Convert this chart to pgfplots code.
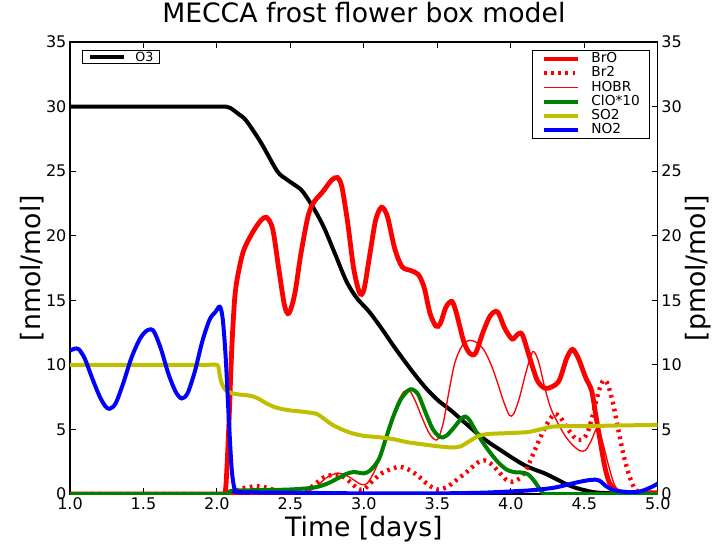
\documentclass[border=0pt]{standalone}
\usepackage{pgfplots}
\pgfplotsset{compat=1.18}
\usepackage{fontspec}
\setmainfont{DejaVu Sans}
\definecolor{mplred}{rgb}{1,0,0}
\definecolor{mplgreen}{rgb}{0,0.5,0}
\definecolor{mplyellow}{rgb}{0.75,0.75,0}
\definecolor{mplblue}{rgb}{0,0,1}
\begin{document}
\begin{tikzpicture}
\pgfplotsset{
  base/.style={
    width=440.8pt, height=339pt, scale only axis,
    xmin=1, xmax=5, ymin=0, ymax=35,
    /pgf/number format/assume math mode=true,
    ticklabel style={font=\fontsize{12}{14}\selectfont},
    ytick={0,5,...,35},
    major tick length=4.5pt,
    every tick/.style={black, line width=0.8pt},
    axis line style={line width=0.9pt},
    label style={font=\fontsize{20}{24}\selectfont},
    legend image code/.code={\draw[##1] (0pt,0pt) -- (25.5pt,0pt);},
  }
}
\begin{axis}[base,
  xtick={1,1.5,...,5},
  xticklabel={\pgfmathprintnumber[fixed,fixed zerofill,precision=1]{\tick}},
  xticklabel style={inner sep=2.5pt},
  yticklabel style={inner sep=2.5pt},
  xlabel={Time [days]},
  xlabel style={at={(axis description cs:0.5,-0.094)}, anchor=base},
  ylabel={[nmol/mol]},
  ylabel style={at={(axis description cs:-0.0638,0.5)}, anchor=center},
  title={MECCA frost flower box model},
  title style={font=\fontsize{20}{24}\selectfont, at={(axis description cs:0.5,1.0265)}, anchor=base},
  legend style={at={(axis description cs:0.0204,0.9823)}, anchor=north west,
    draw=black, line width=0.75pt, inner xsep=4.2pt, inner ysep=1pt,
    font=\fontsize{9.5}{10}\selectfont, column sep=7pt,
    nodes={inner sep=0pt, text height=6.9pt, text depth=1.2pt}},
  legend cell align=left,
]
\addplot[black, line width=3pt, smooth, tension=0.5] coordinates {
(1.0,30)(1.5,30)(2.0,30)(2.06,30)(2.09,29.9)(2.15,29.4)(2.20,28.9)(2.30,27.2)(2.41,25.0)(2.47,24.4)(2.52,24.0)(2.57,23.6)(2.61,23.0)(2.67,21.9)(2.73,20.6)(2.80,18.7)(2.88,16.5)(2.95,15.2)(3.03,14.2)(3.09,13.3)(3.14,12.5)(3.2,11.5)(3.27,10.4)(3.35,9.2)(3.43,8.1)(3.51,7.2)(3.59,6.5)(3.68,5.6)(3.77,4.7)(3.85,4.0)(3.93,3.4)(4.01,2.8)(4.09,2.25)(4.16,1.9)(4.23,1.6)(4.31,1.15)(4.39,0.7)(4.45,0.45)(4.5,0.3)(4.55,0.17)(4.6,0.1)(4.7,0.05)(4.85,0.03)(5.0,0.02)
};
\addlegendentry{O3}
\end{axis}
\begin{axis}[base,
  hide x axis,
  axis y line*=right,
  ytick style={draw=none},
  yticklabel pos=right,
  yticklabel style={inner sep=2.5pt},
  ylabel={[pmol/mol]},
  ylabel style={at={(axis description cs:1.068,0.5)}, anchor=center},
  legend style={at={(axis description cs:0.9864,0.9823)}, anchor=north east,
    draw=black, line width=0.75pt, inner xsep=7pt, inner ysep=1.6pt,
    font=\fontsize{10.3}{11}\selectfont, column sep=8pt, row sep=1.15pt,
    nodes={inner sep=0pt, text height=7.5pt, text depth=2pt}},
  legend cell align=left,
]
% BrO
\addplot[mplred, line width=3.6pt, smooth, tension=0.5] coordinates {
(1.0,0)(1.5,0)(2.0,0)(2.04,0)(2.06,0.5)(2.08,5)(2.10,11)(2.12,15)(2.14,16.8)(2.18,18.8)(2.24,20.2)(2.30,21.2)(2.34,21.4)(2.38,20.5)(2.42,17.5)(2.46,14.6)(2.49,14.0)(2.53,15.5)(2.57,18.5)(2.62,21.5)(2.66,22.6)(2.72,23.4)(2.78,24.3)(2.82,24.5)(2.85,23.8)(2.89,21.0)(2.93,17.5)(2.97,15.6)(3.00,15.8)(3.04,18.5)(3.08,21.2)(3.12,22.2)(3.16,21.5)(3.21,19.0)(3.26,17.6)(3.32,17.3)(3.37,17.0)(3.41,16.0)(3.45,14.0)(3.49,13.0)(3.52,13.2)(3.56,14.5)(3.60,14.9)(3.63,14.0)(3.68,11.8)(3.72,10.9)(3.76,10.9)(3.81,12.5)(3.86,13.8)(3.91,14.1)(3.96,12.8)(4.01,12.0)(4.05,12.4)(4.08,12.3)(4.13,10.5)(4.18,8.8)(4.23,8.2)(4.28,8.3)(4.33,8.8)(4.38,10.5)(4.42,11.2)(4.46,10.5)(4.51,9.0)(4.55,8.0)(4.58,6.0)(4.61,4.0)(4.64,2.1)(4.67,0.9)(4.71,0.3)(4.76,0.1)(4.9,0.1)(5.0,0.1)
};
\addlegendentry{BrO}
% Br2
\addplot[mplred, line width=3.3pt, dash pattern=on 2pt off 3.3pt, smooth, tension=0.5] coordinates {
(1.0,0)(1.5,0)(2.08,0)(2.12,0.2)(2.18,0.45)(2.27,0.6)(2.35,0.45)(2.42,0.2)(2.5,0.1)(2.6,0.2)(2.66,0.7)(2.73,1.3)(2.80,1.5)(2.85,1.4)(2.91,0.9)(2.96,0.4)(3.0,0.35)(3.05,0.9)(3.12,1.6)(3.2,2.0)(3.25,2.1)(3.32,1.8)(3.38,1.3)(3.44,0.7)(3.5,0.35)(3.56,0.5)(3.62,1.0)(3.7,1.7)(3.77,2.4)(3.82,2.6)(3.87,2.3)(3.92,1.7)(3.97,1.1)(4.01,0.95)(4.06,1.2)(4.11,2.0)(4.16,3.3)(4.21,4.6)(4.26,5.7)(4.30,6.2)(4.34,5.9)(4.39,5.0)(4.44,4.3)(4.48,4.2)(4.52,4.7)(4.56,6.2)(4.60,8.0)(4.63,8.8)(4.66,8.5)(4.70,6.8)(4.74,4.5)(4.77,2.9)(4.81,1.3)(4.85,0.3)(4.9,0.1)(5.0,0.1)
};
\addlegendentry{Br2}
% HOBR
\addplot[mplred, line width=1pt, smooth, tension=0.5] coordinates {
(1.0,0)(2.0,0)(2.55,0)(2.62,0.2)(2.68,0.6)(2.75,1.3)(2.82,1.6)(2.88,1.45)(2.93,1.1)(2.98,0.75)(3.02,0.8)(3.06,1.5)(3.1,2.5)(3.14,3.8)(3.18,5.3)(3.22,6.8)(3.27,7.9)(3.31,8.0)(3.35,7.2)(3.40,5.8)(3.45,4.6)(3.5,4.2)(3.54,5.5)(3.58,8.0)(3.62,10.2)(3.67,11.5)(3.72,11.9)(3.77,11.7)(3.82,11.1)(3.87,9.9)(3.91,8.6)(3.95,7.2)(3.99,6.1)(4.02,6.2)(4.06,7.5)(4.10,9.3)(4.14,10.8)(4.16,11.0)(4.19,10.2)(4.23,8.3)(4.27,6.7)(4.32,5.5)(4.37,4.5)(4.42,3.8)(4.47,3.35)(4.51,3.4)(4.55,4.2)(4.58,5.0)(4.60,5.0)(4.63,3.8)(4.67,2.0)(4.71,0.6)(4.76,0.2)(4.85,0.1)(5.0,0.1)
};
\addlegendentry{HOBR}
% ClO*10
\addplot[mplgreen, line width=3pt, smooth, tension=0.5] coordinates {
(1.0,0)(1.5,0)(2.0,0)(2.08,0)(2.10,0.25)(2.3,0.3)(2.5,0.35)(2.66,0.5)(2.75,0.8)(2.82,1.2)(2.88,1.55)(2.93,1.7)(3.0,1.6)(3.04,1.8)(3.08,2.3)(3.11,2.9)(3.15,4.3)(3.2,6.0)(3.25,7.3)(3.3,8.0)(3.33,8.1)(3.37,7.7)(3.42,6.3)(3.47,5.0)(3.52,4.4)(3.56,4.5)(3.61,5.1)(3.66,5.8)(3.69,6.0)(3.72,5.7)(3.77,4.7)(3.84,3.5)(3.91,2.5)(3.97,1.9)(4.02,1.7)(4.08,1.65)(4.12,1.5)(4.16,1.0)(4.19,0.5)(4.22,0.05)(4.25,0)(4.5,0)(5.0,0)
};
\addlegendentry{ClO*10}
% SO2
\addplot[mplyellow, line width=3pt, smooth, tension=0.4] coordinates {
(1.0,10)(1.5,10)(1.9,10)(2.0,10)(2.012,9.7)(2.022,9.0)(2.035,8.5)(2.055,8.1)(2.09,7.85)(2.14,7.72)(2.23,7.6)(2.28,7.4)(2.34,7.0)(2.40,6.7)(2.48,6.5)(2.6,6.35)(2.68,6.2)(2.72,5.9)(2.78,5.4)(2.85,5.0)(2.92,4.7)(3.0,4.5)(3.1,4.4)(3.2,4.25)(3.3,4.0)(3.4,3.85)(3.5,3.7)(3.6,3.6)(3.66,3.7)(3.72,4.1)(3.78,4.5)(3.85,4.65)(3.95,4.7)(4.05,4.75)(4.12,4.8)(4.2,5.0)(4.27,5.2)(4.35,5.25)(4.5,5.25)(4.7,5.3)(5.0,5.35)
};
\addlegendentry{SO2}
% NO2
\addplot[mplblue, line width=3pt, smooth, tension=0.5] coordinates {
(1.0,11.1)(1.03,11.25)(1.06,11.2)(1.1,10.5)(1.15,9.0)(1.2,7.6)(1.24,6.8)(1.27,6.6)(1.31,7.0)(1.36,8.5)(1.42,10.6)(1.48,12.1)(1.53,12.7)(1.57,12.6)(1.62,11.2)(1.67,9.3)(1.72,7.9)(1.76,7.4)(1.8,7.8)(1.85,9.5)(1.9,11.8)(1.95,13.5)(1.99,14.1)(2.02,14.5)(2.04,13.5)(2.06,10.5)(2.08,6)(2.10,2)(2.12,0.4)(2.15,0.15)(2.5,0.1)(3.0,0.05)(3.5,0.05)(3.8,0.1)(4.0,0.2)(4.15,0.3)(4.3,0.5)(4.45,0.9)(4.55,1.1)(4.6,1.05)(4.65,0.6)(4.7,0.3)(4.8,0.15)(4.88,0.2)(4.95,0.5)(5.0,0.8)
};
\addlegendentry{NO2}
\end{axis}
\pgfresetboundingbox
\path[use as bounding box] ([shift={(-52.5pt,-36.75pt)}]current axis.south west) rectangle ([shift={(43.7pt,31.5pt)}]current axis.north east);
\end{tikzpicture}
\end{document}
